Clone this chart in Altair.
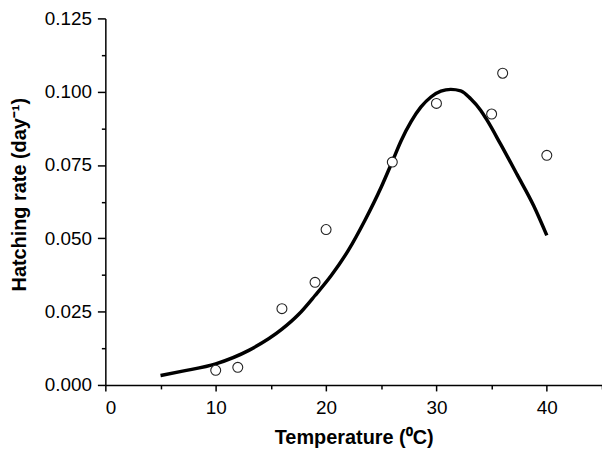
import altair as alt
import pandas as pd

# Observed points
temp_obs = [10, 12, 16, 19, 20, 26, 30, 35, 36, 40]
rate_obs = [0.005, 0.006, 0.026, 0.035, 0.053, 0.076, 0.096, 0.0924, 0.1063, 0.0783]

# Fitted curve
temp_fit = [5, 7, 10, 13, 16, 17.5, 19, 20.5, 22, 23.5, 25, 26, 26.8, 27.7, 28.6,
            29.5, 30.4, 31.3, 32.2, 33.1, 34.0, 34.6, 35.8, 37.3, 38.8, 40]
rate_fit = [0.0032, 0.0047, 0.0072, 0.0118, 0.019, 0.024, 0.0305, 0.0375, 0.0458, 0.056,
            0.0675, 0.0762, 0.0833, 0.0898, 0.0948, 0.0982, 0.1002, 0.1008, 0.1003, 0.0976,
            0.0937, 0.0902, 0.0822, 0.0718, 0.0612, 0.051]

x_major = [0, 10, 20, 30, 40]
x_minor = [5, 15, 25, 35, 45]
y_major = [0.0, 0.025, 0.05, 0.075, 0.1, 0.125]
y_minor = [0.0125, 0.0375, 0.0625, 0.0875, 0.1125]

obs = pd.DataFrame({"T": temp_obs, "r": rate_obs})
fit = pd.DataFrame({"T": temp_fit, "r": rate_fit})

xs = alt.Scale(domain=[0, 45], nice=False, zero=False)
ys = alt.Scale(domain=[0, 0.125], nice=False)

FONT = "Liberation Sans"
common = dict(labelFont=FONT, labelFontSize=19, labelColor="black",
              titleFont=FONT, titleFontSize=20, titleFontWeight="bold", titleColor="black",
              domainColor="black", domainWidth=1.5, tickColor="black", tickWidth=1.5,
              grid=False)

line = alt.Chart(fit).mark_line(color="black", strokeWidth=3.5, interpolate="monotone").encode(
    x=alt.X("T:Q", scale=xs, axis=alt.Axis(
        orient="bottom", values=x_major, format="d", tickSize=6, labelPadding=8,
        title="Temperature (⁰C)", titleX=250, titleY=59, titleBaseline="alphabetic",
        titleAnchor="middle", titleAlign="center", **common)),
    y=alt.Y("r:Q", scale=ys, axis=alt.Axis(
        orient="left", values=y_major, format=".3f", tickSize=8, labelPadding=6,
        title="Hatching rate (day⁻¹)", titleX=-80, titleY=177, titleBaseline="alphabetic",
        titleAlign="center", **common)),
)

minor_common = dict(labels=False, domain=False, title=None, tickSize=4, tickWidth=1.5,
                    tickColor="black", grid=False)

pts = alt.Chart(obs).mark_circle(fill="white", stroke="#222", strokeWidth=1.1,
                                 size=100, opacity=1).encode(
    x=alt.X("T:Q", scale=xs, axis=alt.Axis(orient="bottom", values=x_minor, **minor_common)),
    y=alt.Y("r:Q", scale=ys, axis=alt.Axis(orient="left", values=y_minor, **minor_common)),
)

chart = alt.layer(line, pts).resolve_axis(x="independent", y="independent").properties(
    width=500, height=369,
    autosize=alt.AutoSizeParams(type="none"),
    padding={"left": 98, "top": 9, "right": 0, "bottom": 62},
).configure_view(stroke=None)

chart.save("out.html", embed_options={"renderer": "svg", "actions": False})
